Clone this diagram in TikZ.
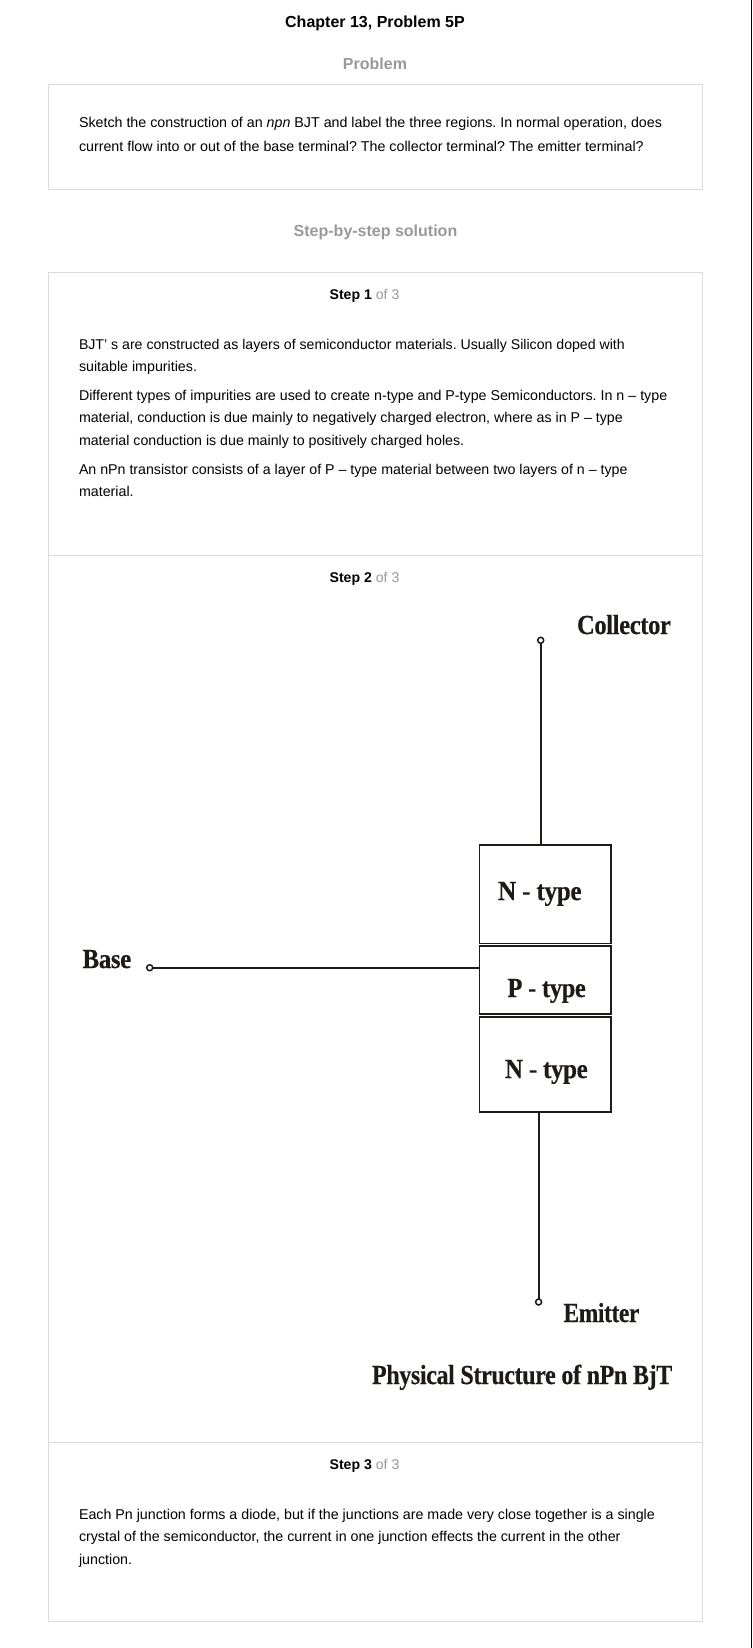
\documentclass[tikz,border=0pt]{standalone}
\usepackage{fontspec}
\setmainfont{Liberation Sans}
\newfontfamily\labelfont[LetterSpace=-1.5,FakeBold=0.4]{Liberation Serif}
\definecolor{panelline}{HTML}{DADADA}
\definecolor{headgray}{HTML}{999999}
\definecolor{inkdark}{HTML}{1E1A17}
\newcommand{\lbl}[2]{\scalebox{#1}[1.06]{#2}}
\tikzset{
  x=1pt,y=-1pt,
  panel/.style={draw=panelline,line width=1pt},
  txt/.style={anchor=base west,inner sep=0pt,outer sep=0pt,font=\fontsize{14.25}{14.25}\selectfont\frenchspacing,text=black},
  txtn/.style={txt,font=\fontsize{14.2}{14.2}\selectfont\frenchspacing},
  txts/.style={txt,font=\fontsize{14.13}{14.13}\selectfont\frenchspacing},
  heading/.style={anchor=base,inner sep=0pt,outer sep=0pt,font=\fontsize{16}{16}\selectfont\bfseries,text=headgray},
  steplabel/.style={anchor=base,inner sep=0pt,outer sep=0pt,font=\fontsize{14.1}{14.1}\selectfont},
  region/.style={draw=inkdark,line width=1.8pt,inner sep=0pt,outer sep=0pt,anchor=north west},
  terminal/.style={circle,draw=inkdark,fill=white,line width=1.5pt,minimum size=6pt,inner sep=0pt,outer sep=0pt},
  wire/.style={draw=inkdark,line width=1.8pt},
  serifbold/.style={anchor=base west,inner sep=0pt,outer sep=0pt,text=inkdark,font=\labelfont\fontsize{#1}{#1}\selectfont\bfseries},
}
\begin{document}
\begin{tikzpicture}
\useasboundingbox (0,0) rectangle (752,1648);
\fill[white] (0,0) rectangle (752,1648);
\draw[black,line width=1pt] (751.5,0) -- (751.5,1648);
% panels
\draw[panel] (48.5,84.5) rectangle (702.5,189.5);
\draw[panel] (48.5,272.5) rectangle (702.5,1621.5);
\draw[panel] (48.5,555.5) -- (702.5,555.5);
\draw[panel] (48.5,1442.5) -- (702.5,1442.5);
% headings
\node[heading,text=black] (title) at (375,28) {Chapter 13, Problem 5P};
\node[heading] (problem) at (375,70) {Problem};
\node[heading] (solution) at (375.5,236) {Step-by-step solution};
% problem text
\node[txt] (p1) at (79,127.5) {Sketch the construction of an \textit{npn} BJT and label the three regions. In normal operation, does};
\node[txt] (p2) at (79,151.5) {current flow into or out of the base terminal? The collector terminal? The emitter terminal?};
% steps
\node[steplabel] (s1) at (364.5,299) {\textbf{Step 1} \textcolor{headgray}{of 3}};
\node[steplabel] (s2) at (364.5,582.5) {\textbf{Step 2} \textcolor{headgray}{of 3}};
\node[steplabel] (s3) at (364.5,1469) {\textbf{Step 3} \textcolor{headgray}{of 3}};
\node[txts] (a1) at (79,349) {BJT’ s are constructed as layers of semiconductor materials. Usually Silicon doped with};
\node[txt] (a2) at (79,371) {suitable impurities.};
\node[txt] (a3) at (79,400.5) {Different types of impurities are used to create n-type and P-type Semiconductors. In n – type};
\node[txtn] (a4) at (79,422) {material, conduction is due mainly to negatively charged electron, where as in P – type};
\node[txtn] (a5) at (79,445) {material conduction is due mainly to positively charged holes.};
\node[txtn] (a6) at (79,474) {An nPn transistor consists of a layer of P – type material between two layers of n – type};
\node[txt] (a7) at (79,496) {material.};
\node[txt] (c1) at (79,1519.5) {Each Pn junction forms a diode, but if the junctions are made very close together is a single};
\node[txt] (c2) at (79,1541) {crystal of the semiconductor, the current in one junction effects the current in the other};
\node[txt] (c3) at (79,1564) {junction.};
% regions
\node[region,minimum width=131.5pt,minimum height=98.5pt] (box1) at (479.5,845) {};
\node[region,minimum width=131.5pt,minimum height=68.5pt] (box2) at (479.5,945.8) {};
\node[region,minimum width=131.5pt,minimum height=95.5pt] (box3) at (479.5,1016.8) {};
% terminals
\node[terminal] (tc) at (540.7,640.3) {};
\node[terminal] (tb) at (149.7,967.7) {};
\node[terminal] (te) at (538.6,1302) {};
\draw[wire] (tc) -- (tc |- box1.north);
\draw[wire] (tb) -- (tb -| box2.west);
\draw[wire] (te |- box3.south) -- (te);
% diagram labels
\node[serifbold=26] (lc) at (577,634) {\lbl{0.945}{Collector}};
\node[serifbold=26] (lb) at (82.5,968) {\lbl{0.96}{Base}};
\node[serifbold=26] (le) at (563.5,1322) {\lbl{0.9}{Emitter}};
\node[serifbold=26] (ln1) at (498,900) {\lbl{0.97}{N - type}};
\node[serifbold=26] (lp) at (507.5,997) {\lbl{0.94}{P - type}};
\node[serifbold=26] (ln2) at (505,1078) {\lbl{0.96}{N - type}};
\node[serifbold=26] (lt) at (372,1384) {\lbl{0.923}{Physical Structure of nPn BjT}};
\end{tikzpicture}
\end{document}
